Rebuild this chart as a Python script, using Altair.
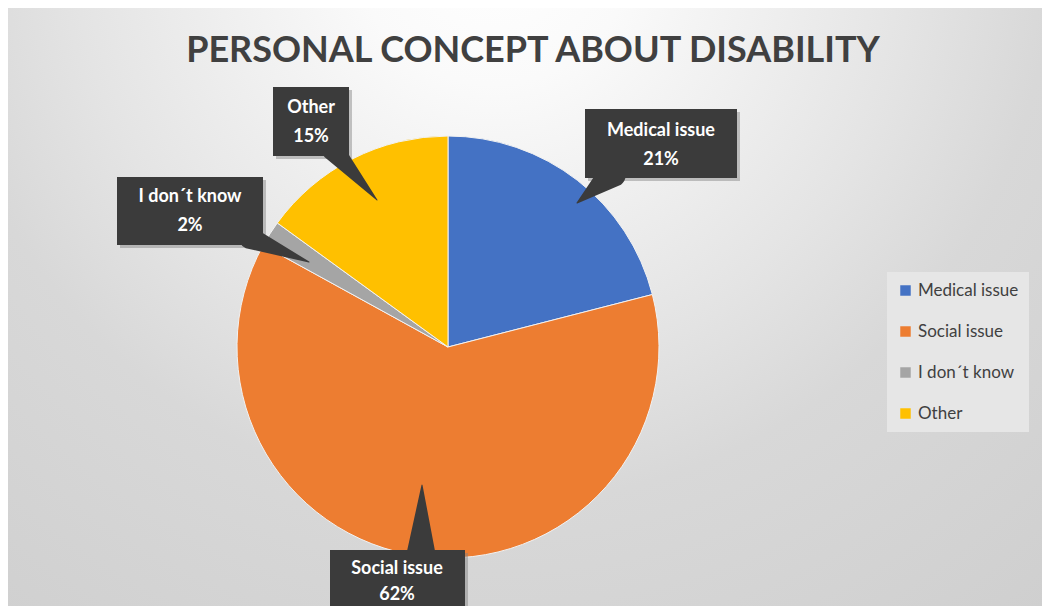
import altair as alt
import pandas as pd

# ---- data ----
categories = ["Medical issue", "Social issue", "I don´t know", "Other"]
values = [21, 62, 2, 15]
colors = ["#4472C4", "#ED7D31", "#A5A5A5", "#FFC000"]
title_text = "PERSONAL CONCEPT ABOUT DISABILITY"

# ---- layout (reference pixel coordinates) ----
W, H = 1034, 598
OFF = 8
pie_cx, pie_cy, pie_r = 448, 347, 211
callouts = {
    # box x1, y1, x2, y2, text x, line1 y, line2 y, pointer base x, y, width, apex x, y
    "Medical issue": (585, 109, 737, 178, 661, 131, 160, 612, 174, 28, 577, 203),
    "Social issue": (330, 550, 465, 625, 397, 569, 595, 421, 556, 30, 422, 485),
    "I don´t know": (117, 177, 263, 245, 190, 197, 226, 250, 238, 22, 309, 262),
    "Other": (273, 87, 349, 156, 311, 108, 137, 333, 150, 22, 377, 200),
}

xs = alt.Scale(domain=[0, W], range=[0, W])
ys = alt.Scale(domain=[0, H], range=[0, H])

# background gradient
bg = alt.Chart(pd.DataFrame({"a": [0]})).mark_rect(
    fill=alt.RadialGradient(
        gradient="radial",
        stops=[alt.GradientStop(offset=0, color="#FFFFFF"),
               alt.GradientStop(offset=0.15, color="#FAFAFA"),
               alt.GradientStop(offset=0.45, color="#E4E4E4"),
               alt.GradientStop(offset=0.6, color="#D8D8D8"),
               alt.GradientStop(offset=1, color="#CDCDCD")],
        x1=0.47, y1=0.15, r1=0, x2=0.47, y2=0.15, r2=0.9,
    )
).encode(x=alt.value(0), x2=alt.value(W), y=alt.value(0), y2=alt.value(H))

# pie
pie_df = pd.DataFrame({"cat": categories, "val": values, "idx": list(range(len(values)))})
pie = alt.Chart(pie_df).mark_arc(radius=pie_r, stroke="#F2F2F2", strokeWidth=1).encode(
    theta=alt.Theta("val:Q", stack=True),
    order=alt.Order("idx:Q"),
    color=alt.Color("cat:N",
                    scale=alt.Scale(domain=categories, range=colors),
                    sort=categories,
                    legend=alt.Legend(orient="none", legendX=887 - OFF, legendY=272 - OFF,
                                      title=None, fillColor="#E6E6E6", padding=10,
                                      symbolType="square", symbolSize=110, symbolStrokeWidth=0,
                                      labelFontSize=17, labelFont="Lato", labelColor="#404040",
                                      rowPadding=23, labelOffset=4, labelLimit=200)),
    x=alt.value(pie_cx - OFF), y=alt.value(pie_cy - OFF),
)

# callouts
rows_box, rows_ptr, rows_txt = [], [], []
for cat, v in zip(categories, values):
    bx1, by1, bx2, by2, tx, ty1, ty2, px, py, pw, ax, ay = callouts[cat]
    rows_box.append({"cat": cat, "x1": bx1 - OFF, "y1": by1 - OFF, "x2": bx2 - OFF, "y2": by2 - OFF,
                     "sx1": bx1 - OFF + 3, "sy1": by1 - OFF + 3, "sx2": bx2 - OFF + 3, "sy2": by2 - OFF + 3})
    rows_ptr.append({"cat": cat, "o": 0, "x": px - OFF, "y": py - OFF, "w": pw})
    rows_ptr.append({"cat": cat, "o": 1, "x": ax - OFF, "y": ay - OFF, "w": 0})
    rows_txt.append({"cat": cat, "t": cat, "x": tx - OFF, "y": ty1 - OFF})
    rows_txt.append({"cat": cat, "t": f"{v}%", "x": tx - OFF, "y": ty2 - OFF})

box_df = pd.DataFrame(rows_box)
ptr_df = pd.DataFrame(rows_ptr)
txt_df = pd.DataFrame(rows_txt)

shadow = alt.Chart(box_df).mark_rect(color="#808080", opacity=0.45).encode(
    x=alt.X("sx1:Q", scale=xs, axis=None), x2="sx2:Q",
    y=alt.Y("sy1:Q", scale=ys, axis=None), y2="sy2:Q")

pointer = alt.Chart(ptr_df).mark_trail(color="#3B3B3B").encode(
    x=alt.X("x:Q", scale=xs, axis=None), y=alt.Y("y:Q", scale=ys, axis=None),
    size=alt.Size("w:Q", scale=None, legend=None), detail="cat:N", order="o:Q")

box = alt.Chart(box_df).mark_rect(color="#3B3B3B").encode(
    x=alt.X("x1:Q", scale=xs, axis=None), x2="x2:Q",
    y=alt.Y("y1:Q", scale=ys, axis=None), y2="y2:Q")

txt = alt.Chart(txt_df).mark_text(font="Lato", fontWeight="bold", fontSize=18,
                                  color="#FFFFFF", baseline="middle", align="center").encode(
    x=alt.X("x:Q", scale=xs, axis=None), y=alt.Y("y:Q", scale=ys, axis=None), text="t:N")

title = alt.Chart(pd.DataFrame({"t": [title_text]})).mark_text(
    font="Lato", fontWeight="bold", fontSize=36, color="#404040",
    baseline="middle", align="center").encode(
    x=alt.value(533 - OFF), y=alt.value(51 - OFF), text="t:N")

chart = alt.layer(bg, pie, shadow, pointer, box, txt, title).properties(
    width=W, height=H, padding=0, autosize=alt.AutoSizeParams(type="none")
).configure_view(stroke=None).resolve_scale(color="independent")

chart.save("out.html", embed_options={"renderer": "svg", "actions": False})
